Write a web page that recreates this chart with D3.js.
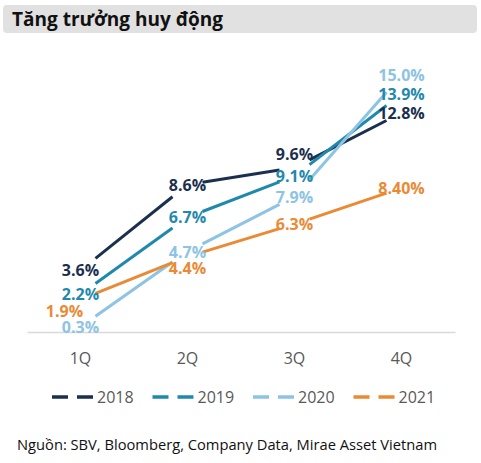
<!DOCTYPE html>
<html>
<head>
<meta charset="utf-8">
<script src="https://cdn.jsdelivr.net/npm/d3@7"></script>
<style>
  html, body { margin: 0; padding: 0; background: #fff; }
  svg { display: block; font-family: "Open Sans", "Noto Sans", sans-serif; }
</style>
</head>
<body>
<svg id="chart" width="481" height="463"></svg>
<script>
const title = "Tăng trưởng huy động";
const source = "Nguồn: SBV, Bloomberg, Company Data, Mirae Asset Vietnam";
const categories = ["1Q", "2Q", "3Q", "4Q"];
const seriesNames = ["2018", "2019", "2020", "2021"];
const values2018 = [3.6, 8.6, 9.6, 12.8];
const values2019 = [2.2, 6.7, 9.1, 13.9];
const values2020 = [0.3, 4.7, 7.9, 15.0];
const values2021 = [1.9, 4.4, 6.3, 8.4];
const labels2018 = ["3.6%", "8.6%", "9.6%", "12.8%"];
const labels2019 = ["2.2%", "6.7%", "9.1%", "13.9%"];
const labels2020 = ["0.3%", "4.7%", "7.9%", "15.0%"];
const labels2021 = ["1.9%", "4.4%", "6.3%", "8.40%"];
const colors = ["#1b2f4e", "#1f89ad", "#8dc3e3", "#ea8a35"];

const series = [
  { name: seriesNames[0], values: values2018, labels: labels2018, color: colors[0] },
  { name: seriesNames[1], values: values2019, labels: labels2019, color: colors[1] },
  { name: seriesNames[2], values: values2020, labels: labels2020, color: colors[2] },
  { name: seriesNames[3], values: values2021, labels: labels2021, color: colors[3] }
];

// label nudges (styling only) keyed by series index and category index
const labelNudge = {
  "0-2": [0, -14],
  "3-0": [-16, 12],
  "3-1": [0, 11]
};

const svg = d3.select("#chart");

// title bar
svg.append("rect").attr("x", 3).attr("y", 5).attr("width", 474).attr("height", 28)
  .attr("rx", 4).attr("fill", "#e1e1e1");
svg.append("text").attr("x", 12).attr("y", 26).text(title)
  .attr("font-size", 19).attr("font-weight", "bold").attr("fill", "#111");

const x = d3.scaleBand().domain(categories).range([27, 455]);
const y = d3.scaleLinear().domain([0, 16]).range([332, 58]);
const cx = c => x(c) + x.bandwidth() / 2;

// axis baseline + labels
const axis = d3.axisBottom(x).tickSize(0).tickPadding(0);
const gAxis = svg.append("g").attr("transform", `translate(0,${y(0)})`).call(axis);
gAxis.select(".domain").attr("stroke", "#d9d9d9").attr("stroke-width", 1.5);
gAxis.selectAll("text").attr("font-size", 16).attr("fill", "#595959")
  .attr("font-family", "'Open Sans', sans-serif").attr("dy", null).attr("y", 32);

// lines (segments trimmed near the points)
const trim = 15;
series.forEach((s, si) => {
  const g = svg.append("g");
  for (let i = 0; i < categories.length - 1; i++) {
    const x1 = cx(categories[i]), y1 = y(s.values[i]);
    const x2 = cx(categories[i + 1]), y2 = y(s.values[i + 1]);
    const t = trim / (x2 - x1);
    g.append("line")
      .attr("x1", x1 + (x2 - x1) * t).attr("y1", y1 + (y2 - y1) * t)
      .attr("x2", x2 - (x2 - x1) * t).attr("y2", y2 - (y2 - y1) * t)
      .attr("stroke", s.color).attr("stroke-width", 3);
  }
});

// labels
series.forEach((s, si) => {
  s.values.forEach((v, i) => {
    const n = labelNudge[si + "-" + i] || [0, 0];
    svg.append("text")
      .attr("x", cx(categories[i]) + n[0]).attr("y", y(v) + n[1])
      .attr("text-anchor", "middle").attr("dominant-baseline", "central")
      .attr("font-size", 16).attr("font-weight", "bold").attr("fill", s.color)
      .text(s.labels[i]);
  });
});

// legend
const legend = svg.append("g").attr("transform", "translate(52,397)");
series.forEach((s, i) => {
  const g = legend.append("g").attr("transform", `translate(${i * 100.5},0)`);
  g.append("line").attr("x1", 0).attr("x2", 42).attr("y1", 0).attr("y2", 0)
    .attr("stroke", s.color).attr("stroke-width", 3.5).attr("stroke-dasharray", "16,9");
  g.append("text").attr("x", 45).attr("y", 0).attr("dominant-baseline", "central")
    .attr("font-size", 16).attr("fill", "#595959").text(s.name);
});

// source
svg.append("text").attr("x", 17).attr("y", 444).attr("dominant-baseline", "central")
  .attr("font-size", 14.7).attr("fill", "#111").text(source);
</script>
</body>
</html>
